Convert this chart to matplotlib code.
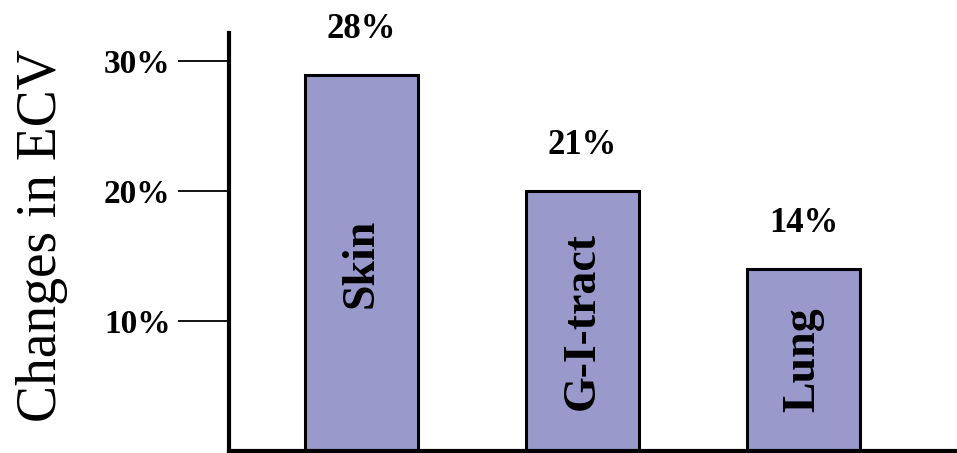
import matplotlib
matplotlib.use("Agg")
import matplotlib.pyplot as plt

# data
organs = ["Skin", "G-I-tract", "Lung"]
heights = [28.9, 20.0, 14.0]          # drawn bar heights (%)
value_labels = ["28%", "21%", "14%"]
yticks = [10, 20, 30]
ytick_labels = ["10%", "20%", "30%"]

plt.rcParams['font.family'] = ['Liberation Serif', 'DejaVu Serif']

fig = plt.figure(figsize=(9.57, 4.53), dpi=100)
ax = fig.add_axes([229/957, 2/453, 1 - 229/957, 418/453])

x = list(range(len(organs)))
ax.bar(x, heights, width=0.51, color='#9999cc', edgecolor='black', linewidth=2.2)

for xi, h, name, lab in zip(x, heights, organs, value_labels):
	ax.text(xi, h/2, name, rotation=90, ha='center', va='center',
		fontsize=33, fontweight='bold', color='black')
	ax.annotate(lab, (xi, h), xytext=(0, 33), textcoords='offset points',
		ha='center', va='center', fontsize=25, fontweight='bold',
		annotation_clip=False)

ax.set_xlim(-0.5995, 2.694)
ax.set_ylim(0, 32.15)
ax.set_xticks([])
ax.set_yticks(yticks)
ax.set_yticklabels(ytick_labels, fontsize=24, fontweight='bold')
ax.tick_params(axis='y', direction='out', length=37, width=1.3, pad=5, colors='black')

for s in ['top', 'right']:
	ax.spines[s].set_visible(False)
for s in ['left', 'bottom']:
	ax.spines[s].set_linewidth(3)
	ax.spines[s].set_color('black')

fig.text(42/957, 1 - 236/453, "Changes in ECV", rotation=90, ha='center', va='center',
	fontsize=40)

plt.savefig("out.png", dpi=100)
